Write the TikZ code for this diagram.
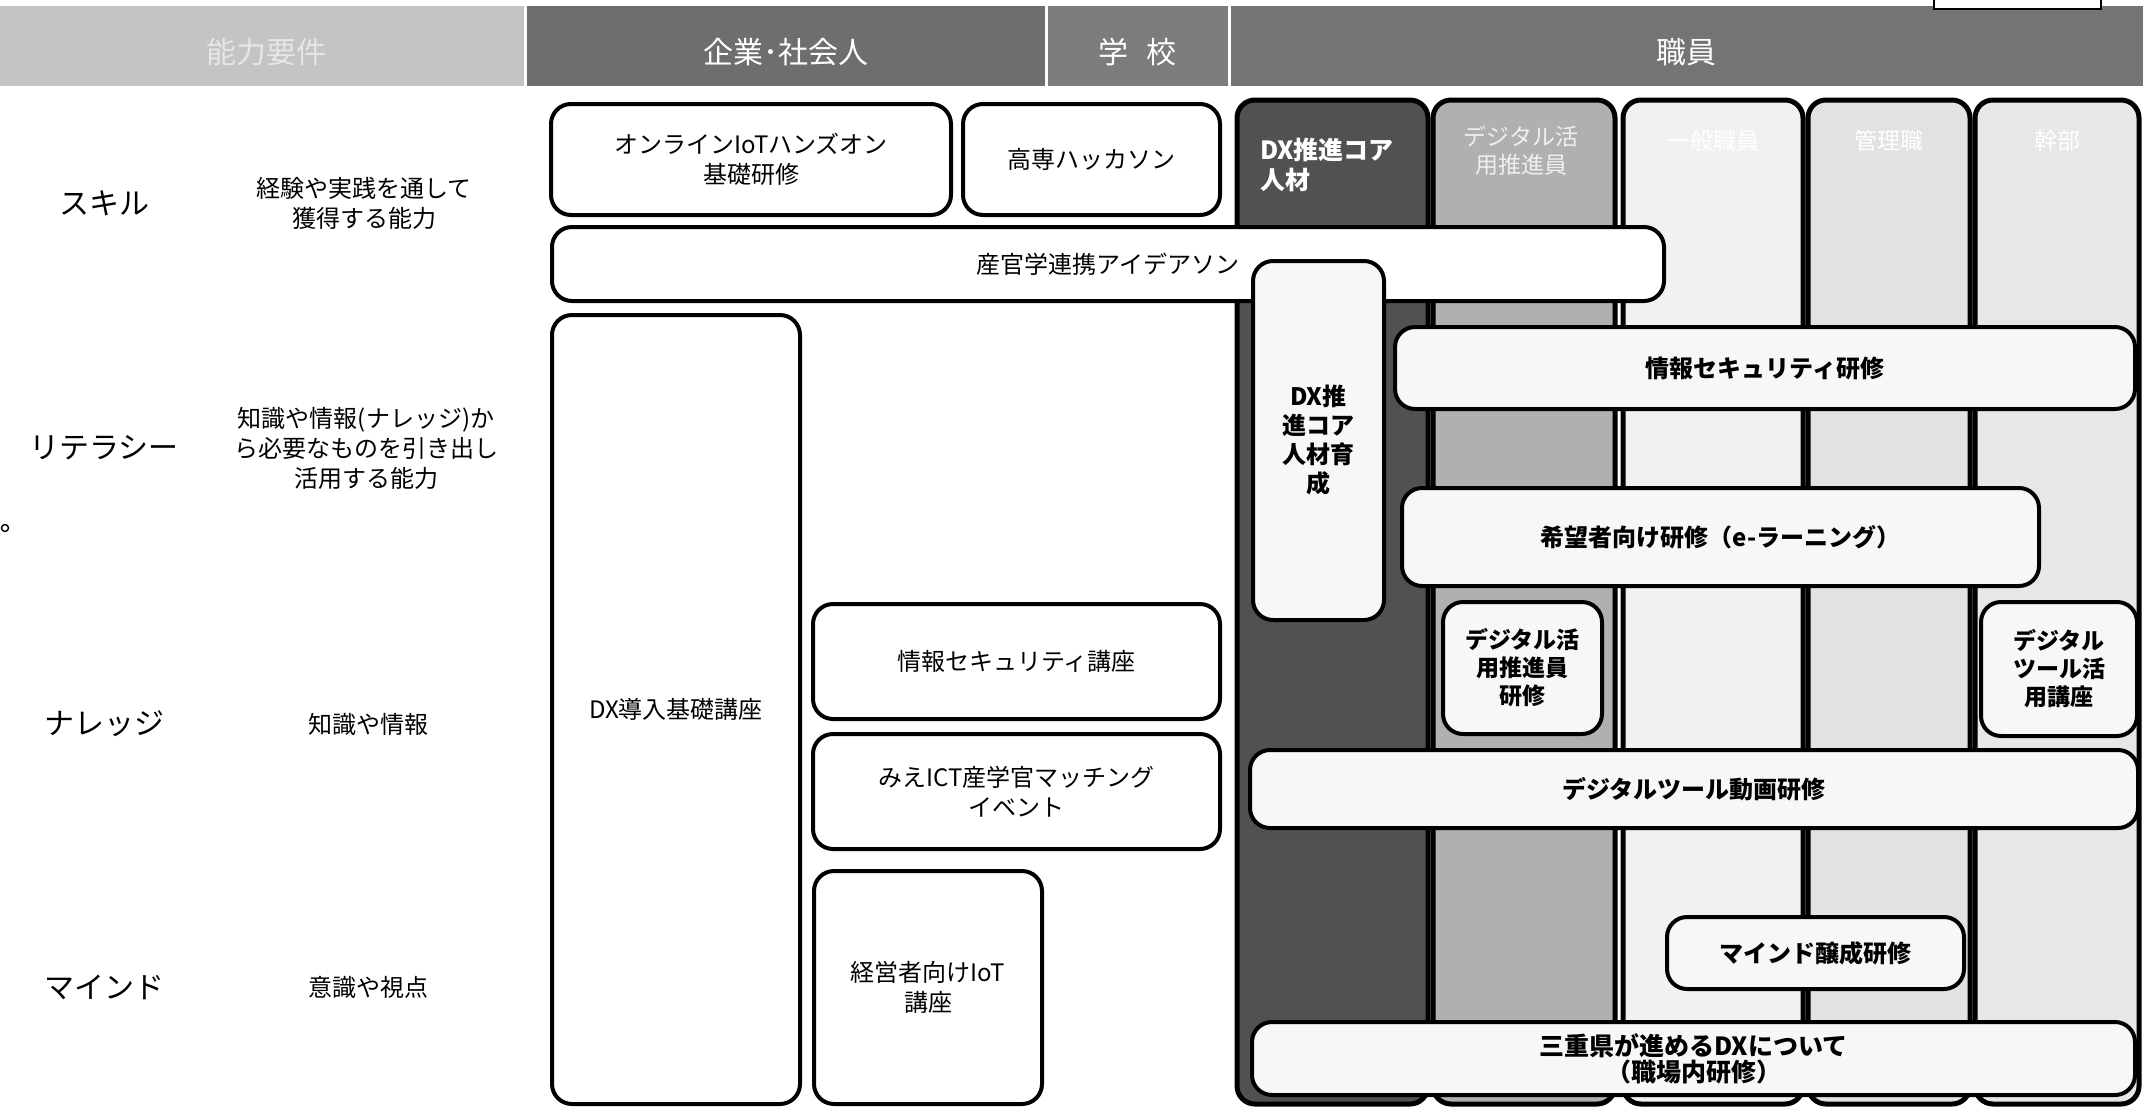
\documentclass[tikz,border=0pt]{standalone}
\usepackage{fontspec}
\setmainfont{Noto Sans CJK JP}
\definecolor{hdrlight}{HTML}{C4C4C4}
\definecolor{hdrlighttxt}{HTML}{E6E6E6}
\definecolor{hdrdark}{HTML}{6E6E6E}
\definecolor{hdrmid}{HTML}{7C7C7C}
\definecolor{hdrstaff}{HTML}{747474}
\definecolor{colA}{HTML}{515151}
\definecolor{colB}{HTML}{B0B0B0}
\definecolor{colC}{HTML}{F1F1F1}
\definecolor{colD}{HTML}{E2E2E2}
\definecolor{colE}{HTML}{E7E7E7}
\definecolor{sfill}{HTML}{F7F7F7}
\definecolor{tabBtxt}{HTML}{EFEFEF}
\tikzset{
  cbox/.style={draw, line width=2pt, rounded corners=10pt, fill=white, align=center, inner sep=0pt,
    font=\fontsize{12pt}{15pt}\selectfont},
  sbox/.style={cbox, fill=sfill, font=\bfseries\fontsize{12pt}{14pt}\selectfont},
  colbox/.style={draw, line width=2.5pt, rounded corners=9pt, inner sep=0pt, minimum height=502pt},
  hdr/.style={inner sep=0pt, draw=none, minimum height=40pt},
  hdrtxt/.style={font=\fontsize{15pt}{18pt}\selectfont, text=white, inner sep=0pt},
  lbl/.style={font=\fontsize{15pt}{18pt}\selectfont},
  desc/.style={font=\fontsize{12pt}{15pt}\selectfont, align=center},
  tab/.style={font=\fontsize{11.5pt}{14pt}\selectfont, align=center, text=white},
}
\begin{document}
\begin{tikzpicture}[x=0.5pt,y=-0.5pt]
\useasboundingbox (0,0) rectangle (2143,1109);
\fill[white] (0,0) rectangle (2143,1109);

% header band
\node[hdr, fill=hdrlight, minimum width=262pt] (hA) at (262,46) {};
\node[hdr, fill=hdrdark, minimum width=259pt] (hB) at (786,46) {};
\node[hdr, fill=hdrmid, minimum width=90pt] (hC) at (1138,46) {};
\node[hdr, fill=hdrstaff, minimum width=456pt] (hD) at (1687,46) {};
\node[hdrtxt, text=hdrlighttxt] (tA) at (266,52) {能力要件};
\node[hdrtxt] (tB) at (786,52) {企業･社会人};
\node[hdrtxt] (tC) at (1137,52) {学\hspace{.6em}校};
\node[hdrtxt] (tD) at (1686,52) {職員};
\node[draw, line width=1pt, fill=white, minimum width=83.5pt, minimum height=8pt, inner sep=0pt] (tr) at (2017.5,1) {};

% left labels
\node[circle, draw, line width=0.7pt, inner sep=0pt, minimum size=3.5pt] (mark) at (5,528) {};
\node[lbl] (lskill) at (104,203) {スキル};
\node[desc] (dskill) at (364,203) {経験や実践を通して\\獲得する能力};
\node[lbl] (llit) at (104,448) {リテラシー};
\node[desc] (dlit) at (366,448) {知識や情報(ナレッジ)か\\ら必要なものを引き出し\\活用する能力};
\node[lbl] (lkn) at (104,724) {ナレッジ};
\node[desc] (dkn) at (368,724) {知識や情報};
\node[lbl] (lmind) at (104,987) {マインド};
\node[desc] (dmind) at (368,987) {意識や視点};

% staff columns
\node[colbox, fill=colA, minimum width=95.5pt] (cA) at (1332.5,602) {};
\node[colbox, fill=colB, minimum width=91pt] (cB) at (1524,602) {};
\node[colbox, fill=colC, minimum width=90pt] (cC) at (1713,602) {};
\node[colbox, fill=colD, minimum width=81pt] (cD) at (1889,602) {};
\node[colbox, fill=colE, minimum width=82pt] (cE) at (2057,602) {};
\node[tab, font=\bfseries\fontsize{12.5pt}{15pt}\selectfont, anchor=west, align=left] (tabA) at (1253,165) {DX推進コア\\人材};
\node[tab, text=tabBtxt] (tabB) at (1521,151) {デジタル活\\用推進員};
\node[tab] (tabC) at (1713,141) {一般職員};
\node[tab] (tabD) at (1889,141) {管理職};
\node[tab] (tabE) at (2057,141) {幹部};

% company / school boxes
\node[cbox, minimum width=200pt, minimum height=55.5pt] (online) at (751,159.5) {オンラインIoTハンズオン\\基礎研修};
\node[cbox, minimum width=128.5pt, minimum height=55.5pt] (kosen) at (1091.5,159.5) {高専ハッカソン};
\node[cbox, minimum width=556pt, minimum height=37pt] (sankan) at (1108,264) {産官学連携アイデアソン};
\node[cbox, minimum width=124pt, minimum height=394.5pt] (dxintro) at (676,709.5) {DX導入基礎講座};
\node[cbox, minimum width=203.5pt, minimum height=57.5pt] (isec) at (1016.5,661.5) {情報セキュリティ講座};
\node[cbox, minimum width=203.5pt, minimum height=57.5pt] (mieict) at (1016.5,791.5) {みえICT産学官マッチング\\イベント};
\node[cbox, minimum width=114pt, minimum height=116.5pt] (keiei) at (928,987.5) {経営者向けIoT\\講座};

% staff boxes
\node[sbox, minimum width=65.5pt, minimum height=179.5pt, font=\bfseries\fontsize{12pt}{14.5pt}\selectfont] (dxcore) at (1318.5,440.5) {DX推\\進コア\\人材育\\成};
\node[sbox, minimum width=370pt, minimum height=41pt] (security) at (1765,368) {情報セキュリティ研修};
\node[sbox, minimum width=318.5pt, minimum height=49pt] (kibou) at (1720.5,537) {希望者向け研修（e-ラーニング）};
\node[sbox, minimum width=79.5pt, minimum height=66pt, font=\bfseries\fontsize{11.5pt}{14pt}\selectfont] (dkatsu) at (1522.5,668) {デジタル活\\用推進員\\研修};
\node[sbox, minimum width=78pt, minimum height=67pt, font=\bfseries\fontsize{11.5pt}{14pt}\selectfont] (dtool) at (2059,669) {デジタル\\ツール活\\用講座};
\node[sbox, minimum width=444pt, minimum height=39pt] (douga) at (1694,789) {デジタルツール動画研修};
\node[sbox, minimum width=148.5pt, minimum height=36pt] (mind) at (1815.5,953) {マインド醸成研修};
\node[sbox, minimum width=441.5pt, minimum height=36.5pt, font=\bfseries\fontsize{12.5pt}{13pt}\selectfont] (mie) at (1693.5,1058.5) {三重県が進めるDXについて\\（職場内研修）};
\end{tikzpicture}
\end{document}
